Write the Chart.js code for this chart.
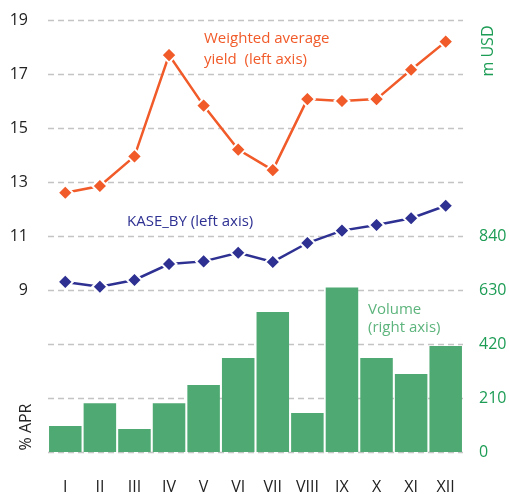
<!DOCTYPE html>
<html><head><meta charset="utf-8">
<script src="https://cdn.jsdelivr.net/npm/chart.js@4/dist/chart.umd.min.js"></script>
<style>html,body{margin:0;padding:0;background:#fff}#wrap{width:509px;height:494px}</style>
</head><body><div id="wrap"><canvas id="c" width="509" height="494"></canvas></div>
<script>
const months = ['I','II','III','IV','V','VI','VII','VIII','IX','X','XI','XII'];
const yieldAvg = [12.6, 12.85, 13.95, 17.7, 15.83, 14.2, 13.44, 16.07, 16.0, 16.07, 17.16, 18.2];
const kaseBy = [9.3, 9.12, 9.37, 9.96, 10.06, 10.38, 10.04, 10.74, 11.2, 11.41, 11.66, 12.12];
const volume = [101, 190, 89, 190, 261, 366, 544, 152, 640, 366, 303, 412];
const leftTicks = [9, 11, 13, 15, 17, 19];
const rightTicks = [0, 210, 420, 630, 840];
const gridValues = [3, 5, 7, 9, 11, 13, 15, 17, 19];

const FONT = '"Open Sans", sans-serif';
const ORANGE = '#f15a29', NAVY = '#2e3192', GREEN = '#4fa972', GTEXT = '#1d9c55', VTEXT = '#5db47c';

const dashedGrid = {
  id: 'dashedGrid',
  beforeDatasetsDraw(chart) {
    const ctx = chart.ctx, ys = chart.scales.y, a = chart.chartArea;
    ctx.save();
    ctx.strokeStyle = '#c4c4c4'; ctx.lineWidth = 1.6; ctx.setLineDash([6, 4]);
    gridValues.forEach(v => {
      const y = Math.round(ys.getPixelForValue(v)) + 0.5;
      ctx.beginPath(); ctx.moveTo(a.left, y); ctx.lineTo(a.right, y); ctx.stroke();
    });
    ctx.restore();
  }
};

const notes = {
  id: 'notes',
  afterDraw(chart) {
    const ctx = chart.ctx;
    ctx.save();
    ctx.textBaseline = 'middle';
    ctx.font = '15px ' + FONT;
    ctx.fillStyle = ORANGE; ctx.textAlign = 'left';
    ctx.fillText('Weighted average', 204, 39);
    ctx.fillText('yield  (left axis)', 204, 60);
    ctx.fillStyle = NAVY;
    ctx.fillText('KASE_BY (left axis)', 127, 222);
    ctx.fillStyle = VTEXT;
    ctx.fillText('Volume', 368, 310);
    ctx.fillText('(right axis)', 368, 328);
    ctx.font = '16px ' + FONT;
    ctx.fillStyle = GTEXT; ctx.textAlign = 'center';
    ctx.translate(488, 51); ctx.rotate(-Math.PI/2);
    ctx.fillText('m USD', 0, 0);
    ctx.restore();
    ctx.save();
    ctx.font = '16px ' + FONT; ctx.fillStyle = '#222'; ctx.textAlign = 'center'; ctx.textBaseline = 'middle';
    ctx.translate(26, 427); ctx.rotate(-Math.PI/2);
    ctx.fillText('% APR', 0, 0);
    ctx.restore();
  }
};

function noPad(s) { s.paddingTop = 0; s.paddingBottom = 0; s.paddingLeft = 0; s.paddingRight = 0; }

new Chart(document.getElementById('c'), {
  data: {
    labels: months,
    datasets: [
      { type: 'line', label: 'Weighted average yield', data: yieldAvg, yAxisID: 'y',
        borderColor: ORANGE, backgroundColor: ORANGE, borderWidth: 2.5,
        pointStyle: 'rectRot', pointRadius: 7.5, pointBackgroundColor: ORANGE,
        pointBorderColor: '#fff', pointBorderWidth: 2, tension: 0 },
      { type: 'line', label: 'KASE_BY', data: kaseBy, yAxisID: 'y',
        borderColor: NAVY, backgroundColor: NAVY, borderWidth: 2.5,
        pointStyle: 'rectRot', pointRadius: 7.5, pointBackgroundColor: NAVY,
        pointBorderColor: '#fff', pointBorderWidth: 2, tension: 0 },
      { type: 'bar', label: 'Volume', data: volume, yAxisID: 'y1',
        backgroundColor: GREEN, barPercentage: 0.94, categoryPercentage: 1.0 }
    ]
  },
  options: {
    responsive: false, animation: false,
    layout: { padding: { top: 20, left: 0, right: 0, bottom: 0 } },
    plugins: { legend: { display: false }, tooltip: { enabled: false } },
    scales: {
      x: {
        grid: { display: false, drawTicks: false }, border: { display: false },
        ticks: { color: '#222', font: { family: FONT, size: 16 }, padding: 26 },
        afterFit(s) { s.height = 42; noPad(s); }
      },
      y: {
        position: 'left', min: 3, max: 19,
        afterBuildTicks(s) { s.ticks = gridValues.map(v => ({ value: v })); },
        ticks: { color: '#222', font: { family: FONT, size: 16 }, padding: 20,
                 callback: v => leftTicks.includes(v) ? String(v) : '' },
        grid: { display: false, drawTicks: false },
        border: { display: false },
        afterFit(s) { s.width = 48; noPad(s); }
      },
      y1: {
        position: 'right', min: 0, max: 1680,
        afterBuildTicks(s) { const t = []; for (let v = 0; v <= 1680; v += 210) t.push({ value: v }); s.ticks = t; },
        ticks: { color: GTEXT, font: { family: FONT, size: 16 }, padding: 16,
                 callback: v => rightTicks.includes(v) ? String(v) : '' },
        grid: { display: false, drawTicks: false }, border: { display: false },
        afterFit(s) { s.width = 46; noPad(s); }
      }
    }
  },
  plugins: [dashedGrid, notes]
});
</script></body></html>
